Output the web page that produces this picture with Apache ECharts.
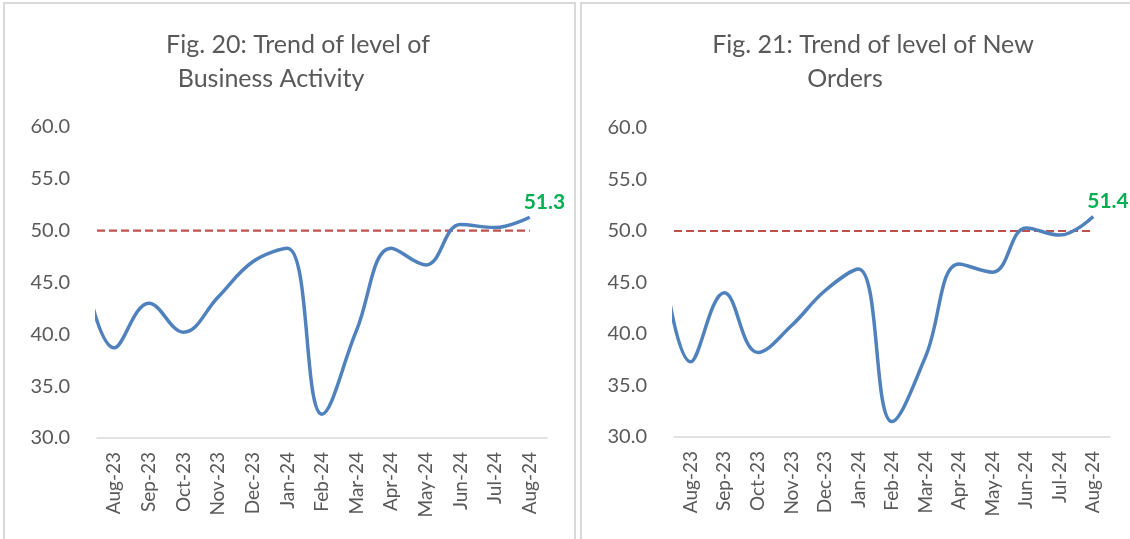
<!DOCTYPE html>
<html>
<head>
<meta charset="utf-8">
<script src="https://cdn.jsdelivr.net/npm/echarts@6/dist/echarts.min.js"></script>
<style>
    html, body { margin: 0; padding: 0; background: #fff; }
    #chart { width: 1130px; height: 539px; }
</style>
</head>
<body>
<div id="chart"></div>
<script>
// categories
var months = ['Aug-23', 'Sep-23', 'Oct-23', 'Nov-23', 'Dec-23', 'Jan-24', 'Feb-24',
    'Mar-24', 'Apr-24', 'May-24', 'Jun-24', 'Jul-24', 'Aug-24'];
// month before the window (Jul-23), only its tail shows at the left edge
var businessPrev = 48.5;
var businessActivity = [38.7, 43.0, 40.2, 43.6, 47.0, 48.3, 32.3, 40.4, 48.3, 46.7, 50.6, 50.3, 51.3];
var ordersPrev = 51.5;
var newOrders = [37.3, 44.0, 38.2, 40.8, 44.2, 46.3, 31.5, 37.8, 46.8, 46.0, 50.3, 49.6, 51.4];
var yTicks = [30, 35, 40, 45, 50, 55, 60];
var threshold = 50;

var font = 'Lato';
var grey = '#595959';

function toPoints(prev, values) {
    var pts = [[-1, prev]];
    values.forEach(function (v, i) {
        pts.push([i, v]);
    });
    return pts;
}

function catAxis(gridIndex) {
    return {
        type: 'category',
        gridIndex: gridIndex,
        data: months,
        boundaryGap: true,
        axisLine: { lineStyle: { color: '#d9d9d9', width: 1.5 } },
        axisTick: { length: 6, lineStyle: { color: '#d9d9d9', width: 1.5 } },
        axisLabel: { rotate: 90, margin: 14, fontSize: 19, color: grey, fontFamily: font }
    };
}

function hiddenAxis(gridIndex) {
    return { type: 'value', gridIndex: gridIndex, min: -0.5, max: months.length - 0.5, show: false };
}

function valAxis(gridIndex) {
    return {
        type: 'value',
        gridIndex: gridIndex,
        min: yTicks[0],
        max: yTicks[yTicks.length - 1],
        interval: 5,
        axisLine: { show: false },
        axisTick: { show: false },
        splitLine: { show: false },
        axisLabel: {
            margin: 27, fontSize: 20, color: grey, fontFamily: font,
            formatter: function (v) { return v.toFixed(1); }
        }
    };
}

function lineSeries(xIdx, yIdx, prev, values) {
    return {
        type: 'line',
        xAxisIndex: xIdx,
        yAxisIndex: yIdx,
        smooth: 0.4,
        symbol: 'none',
        clip: true,
        lineStyle: { color: '#4F81BD', width: 3.5 },
        data: toPoints(prev, values),
        endLabel: {
            show: true,
            offset: [-14, -15],
            formatter: function (p) { return p.value[1].toFixed(1); },
            color: '#00B050',
            fontWeight: 'bold',
            fontSize: 21,
            fontFamily: font
        },
        z: 3
    };
}

function thresholdSeries(xIdx, yIdx) {
    return {
        type: 'line',
        xAxisIndex: xIdx,
        yAxisIndex: yIdx,
        symbol: 'none',
        lineStyle: { color: '#C0504D', width: 2.2, type: [8, 4] },
        data: [[-0.5, threshold], [months.length - 1, threshold]],
        z: 2
    };
}

var titleStyle = { fontSize: 25, fontWeight: 'normal', color: grey, fontFamily: font };

var chart = echarts.init(document.getElementById('chart'));
chart.setOption({
    backgroundColor: '#fff',
    animation: false,
    graphic: [
        { type: 'rect', shape: { x: 4, y: 3, width: 571, height: 560 }, style: { fill: 'none', stroke: '#d9d9d9', lineWidth: 2 } },
        { type: 'rect', shape: { x: 581, y: 3, width: 580, height: 560 }, style: { fill: 'none', stroke: '#d9d9d9', lineWidth: 2 } }
    ],
    title: [
        { text: 'Fig. 20: Trend of level of', left: 293, top: 27, textAlign: 'center', textStyle: titleStyle },
        { text: 'Business Activity', left: 266, top: 61, textAlign: 'center', textStyle: titleStyle },
        { text: 'Fig. 21: Trend of level of New', left: 868, top: 27, textAlign: 'center', textStyle: titleStyle },
        { text: 'Orders', left: 840, top: 61, textAlign: 'center', textStyle: titleStyle }
    ],
    grid: [
        { left: 97, top: 127, width: 450, height: 311 },
        { left: 674, top: 128, width: 436, height: 309 }
    ],
    xAxis: [catAxis(0), hiddenAxis(0), catAxis(1), hiddenAxis(1)],
    yAxis: [valAxis(0), valAxis(1)],
    series: [
        thresholdSeries(1, 0),
        lineSeries(1, 0, businessPrev, businessActivity),
        thresholdSeries(3, 1),
        lineSeries(3, 1, ordersPrev, newOrders)
    ]
});
</script>
</body>
</html>
